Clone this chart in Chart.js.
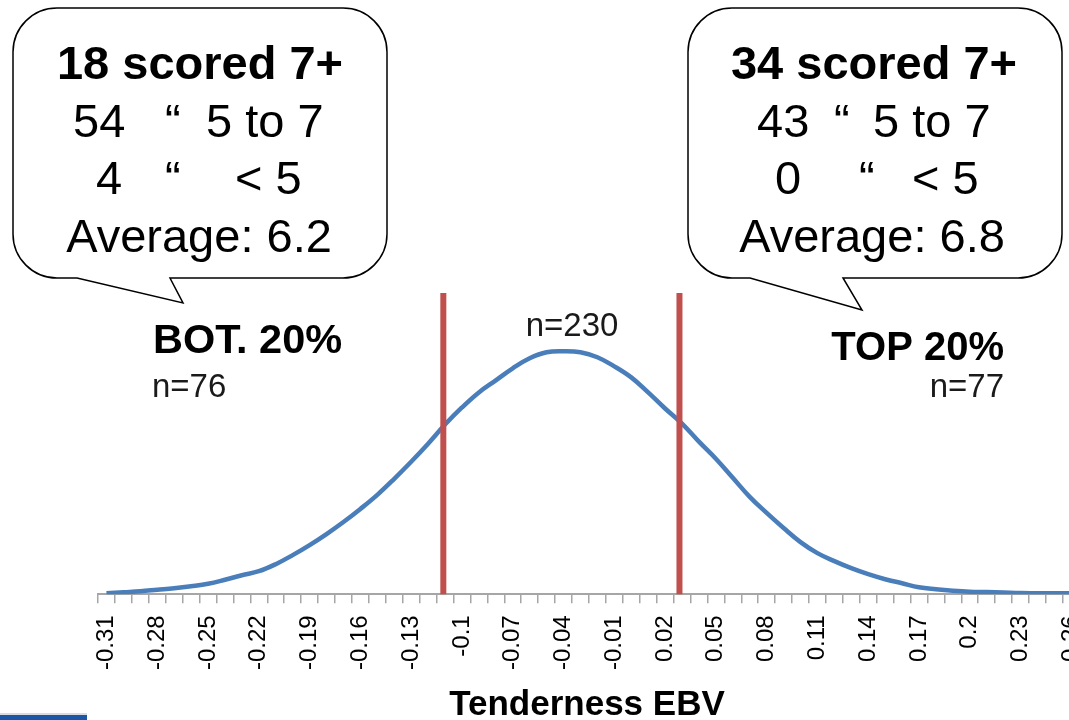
<!DOCTYPE html>
<html>
<head>
<meta charset="utf-8">
<script src="https://cdn.jsdelivr.net/npm/chart.js@4.4.1/dist/chart.umd.min.js"></script>
<style>
  html, body { margin: 0; padding: 0; background: #fff; overflow: hidden; }
  #wrap { position: relative; width: 1069px; height: 720px; overflow: hidden; }
  #bar { position: absolute; left: 0; top: 713px; width: 87px; height: 5px; background: #1b55a5; border-top: 2px solid #d9dde3; }
</style>
</head>
<body>
<div id="wrap">
  <canvas id="chart" width="1146" height="730"></canvas>
  <div id="bar"></div>
</div>
<script>
// EBV categories (0.01 wide), only every third one gets a label
var ebvLabels = ['-0.31','-0.3','-0.29','-0.28','-0.27','-0.26','-0.25','-0.24','-0.23','-0.22',
  '-0.21','-0.2','-0.19','-0.18','-0.17','-0.16','-0.15','-0.14','-0.13','-0.12',
  '-0.11','-0.1','-0.09','-0.08','-0.07','-0.06','-0.05','-0.04','-0.03','-0.02',
  '-0.01','0','0.01','0.02','0.03','0.04','0.05','0.06','0.07','0.08',
  '0.09','0.1','0.11','0.12','0.13','0.14','0.15','0.16','0.17','0.18',
  '0.19','0.2','0.21','0.22','0.23','0.24','0.25','0.26','0.27','0.28'];

// smoothed frequency of the 230 animals
var frequency = [0.1,0.2,0.3,0.45,0.6,0.8,1.05,1.45,1.9,2.3,
  3.0,3.9,4.9,6.0,7.2,8.5,9.9,11.5,13.2,15.0,
  16.9,18.6,20.1,21.3,22.5,23.5,24.1,24.2,24.1,23.6,
  22.7,21.6,20.1,18.5,17.0,15.2,13.5,11.6,9.7,8.1,
  6.6,5.2,4.1,3.3,2.6,2.0,1.5,1.1,0.7,0.5,
  0.35,0.25,0.22,0.17,0.12,0.11,0.1,0.1,0.1,0.1];

// bottom / top 20% cut-off EBVs
var cutoffs = [-0.111, 0.0285];
var groupN = [76, 230, 77];
var botScores = [18, 54, 4];
var topScores = [34, 43, 0];
var averages = [6.2, 6.8];
var axisTitle = 'Tenderness EBV';

var yMax = 30;
var ebvStart = parseFloat(ebvLabels[0]);
var ebvStep = 0.01;

function callout(ctx, l, t, r, b, rad, tail) {
  ctx.beginPath();
  ctx.moveTo(l + rad, t);
  ctx.lineTo(r - rad, t);
  ctx.arcTo(r, t, r, t + rad, rad);
  ctx.lineTo(r, b - rad);
  ctx.arcTo(r, b, r - rad, b, rad);
  ctx.lineTo(tail[1], b);
  ctx.lineTo(tail[2], tail[3]);
  ctx.lineTo(tail[0], b);
  ctx.lineTo(l + rad, b);
  ctx.arcTo(l, b, l, b - rad, rad);
  ctx.lineTo(l, t + rad);
  ctx.arcTo(l, t, l + rad, t, rad);
  ctx.closePath();
  ctx.fillStyle = '#fff';
  ctx.fill();
  ctx.strokeStyle = '#000';
  ctx.lineWidth = 1.5;
  ctx.stroke();
}

function txt(ctx, s, x, y, font, align) {
  ctx.font = font;
  ctx.textAlign = align || 'left';
  ctx.textBaseline = 'alphabetic';
  ctx.fillText(s, x, y);
}

var overlay = {
  id: 'overlay',
  afterDatasetsDraw: function(chart) {
    var ctx = chart.ctx, xs = chart.scales.x, ys = chart.scales.y;
    ctx.save();
    ctx.strokeStyle = '#c0504d';
    ctx.lineWidth = 6;
    cutoffs.forEach(function(c) {
      var px = xs.getPixelForValue((c - ebvStart) / ebvStep);
      ctx.beginPath();
      ctx.moveTo(px, ys.getPixelForValue(yMax));
      ctx.lineTo(px, ys.getPixelForValue(0));
      ctx.stroke();
    });
    ctx.restore();
  },
  afterDraw: function(chart) {
    var ctx = chart.ctx;
    var big = '47px "Liberation Sans", Arial, sans-serif';
    var bigB = 'bold 47px "Liberation Sans", Arial, sans-serif';
    var small = '33px "Liberation Sans", Arial, sans-serif';
    ctx.save();
    ctx.fillStyle = '#000';

    // axis title (sits left of the axis centre in the original)
    txt(ctx, axisTitle, 587, 715, 'bold 35px "Liberation Sans", Arial, sans-serif', 'center');

    // group labels
    txt(ctx, 'BOT. 20%', 153, 353, 'bold 41.5px "Liberation Sans", Arial, sans-serif');
    txt(ctx, 'TOP 20%', 1004, 360, 'bold 40px "Liberation Sans", Arial, sans-serif', 'right');
    ctx.fillStyle = '#1a1a1a';
    txt(ctx, 'n=' + groupN[0], 152, 397, small);
    txt(ctx, 'n=' + groupN[1], 572, 336, small, 'center');
    txt(ctx, 'n=' + groupN[2], 1004, 397, small, 'right');

    // speech bubbles
    callout(ctx, 13, 8, 387, 278, 44, [77, 170, 183, 303]);
    callout(ctx, 688, 8, 1062, 278, 44, [750, 843, 862, 310]);

    ctx.fillStyle = '#000';
    txt(ctx, botScores[0] + ' scored 7+', 200, 79, bigB, 'center');
    txt(ctx, String(botScores[1]), 73, 137, big);
    txt(ctx, '\u201c', 165, 137, big);
    txt(ctx, '5 to 7', 206, 137, big);
    txt(ctx, String(botScores[2]), 96, 194, big);
    txt(ctx, '\u201c', 165, 194, big);
    txt(ctx, '< 5', 235, 194, big);
    txt(ctx, 'Average: ' + averages[0], 199, 252, big, 'center');

    txt(ctx, topScores[0] + ' scored 7+', 874, 79, bigB, 'center');
    txt(ctx, String(topScores[1]), 757, 137, big);
    txt(ctx, '\u201c', 834, 137, big);
    txt(ctx, '5 to 7', 873, 137, big);
    txt(ctx, String(topScores[2]), 775, 194, big);
    txt(ctx, '\u201c', 859, 194, big);
    txt(ctx, '< 5', 912, 194, big);
    txt(ctx, 'Average: ' + averages[1], 872, 252, big, 'center');
    ctx.restore();
  }
};

var chart = new Chart(document.getElementById('chart'), {
  type: 'line',
  data: {
    labels: ebvLabels,
    datasets: [{
      data: frequency,
      borderColor: '#4a7ebb',
      borderWidth: 4.5,
      pointRadius: 0,
      fill: false,
      tension: 0.4
    }]
  },
  options: {
    responsive: false,
    animation: false,
    layout: { padding: { left: 98, right: 0, top: 293, bottom: 48 } },
    plugins: { legend: { display: false }, tooltip: { enabled: false } },
    scales: {
      x: {
        offset: true,
        grid: { display: true, drawOnChartArea: false, offset: true, tickLength: 9, color: '#a6a6a6', lineWidth: 1.5 },
        border: { color: '#a6a6a6', width: 2 },
        ticks: {
          autoSkip: false, minRotation: 90, maxRotation: 90, padding: 12,
          color: '#000',
          font: { family: '"Liberation Sans", Arial, sans-serif', size: 24 },
          callback: function(v, i) { return i % 3 === 0 ? ebvLabels[i] : ''; }
        }
      },
      y: { display: false, min: 0, max: yMax }
    }
  },
  plugins: [overlay]
});
</script>
</body>
</html>
